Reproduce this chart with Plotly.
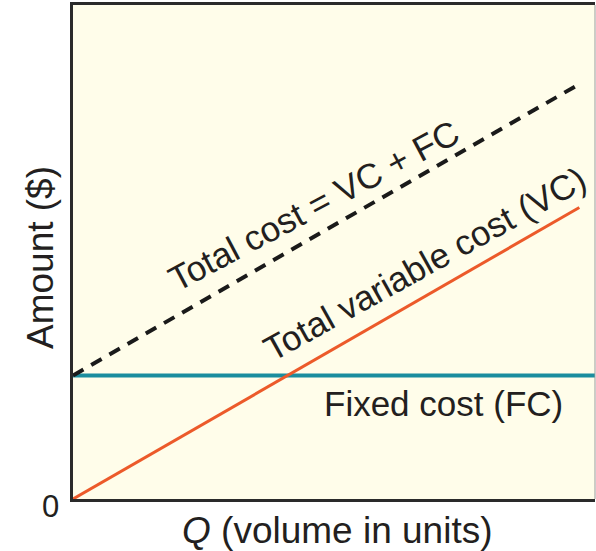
import plotly.graph_objects as go

# Data (arbitrary units)
q_fc = [0, 10]
fc = [2.5, 2.5]
q_vc = [0, 9.7]
vc = [0, 5.9]
q_tc = [0, 9.7]
tc = [2.5, 8.4]

labels = {
    "tc": "Total cost = VC + FC",
    "vc": "Total variable cost (VC)",
    "fc": "Fixed cost (FC)",
}
x_title = "<i>Q</i> (volume in units)"
y_title = "Amount ($)"
origin_label = "0"

FONT = "Liberation Sans, Arial, sans-serif"
TXT = "#231f20"
FS = 35

fig = go.Figure()
fig.add_trace(go.Scatter(x=q_fc, y=fc, mode="lines",
                         line=dict(color="#1b8d9e", width=4), showlegend=False))
fig.add_trace(go.Scatter(x=q_vc, y=vc, mode="lines",
                         line=dict(color="#ec5a2a", width=3), showlegend=False))
fig.add_trace(go.Scatter(x=q_tc, y=tc, mode="lines",
                         line=dict(color="#1a1a1a", width=4, dash="12px,9px"),
                         showlegend=False))

fig.add_annotation(x=4.6, y=5.95, text=labels["tc"], showarrow=False,
                   textangle=-28, font=dict(size=FS, color=TXT, family=FONT))
fig.add_annotation(x=6.74, y=4.76, text=labels["vc"], showarrow=False,
                   textangle=-29, font=dict(size=FS, color=TXT, family=FONT))
fig.add_annotation(x=7.1, y=1.93, text=labels["fc"], showarrow=False,
                   font=dict(size=FS, color=TXT, family=FONT))
fig.add_annotation(xref="paper", x=0, y=0, xanchor="right", yshift=-7, xshift=-12,
                   text=origin_label, showarrow=False,
                   font=dict(size=31, color=TXT, family=FONT))
# axis titles
fig.add_annotation(xref="paper", yref="paper", x=0.506, y=0, yanchor="middle",
                   yshift=-31, text=x_title, showarrow=False,
                   font=dict(size=37, color=TXT, family=FONT))
fig.add_annotation(xref="paper", yref="paper", x=0, y=0.5, xanchor="center",
                   xshift=-33, yshift=-6, textangle=-90, text=y_title, showarrow=False,
                   font=dict(size=37, color=TXT, family=FONT))

fig.add_shape(type="line", xref="paper", yref="paper", x0=1, x1=1, y0=0, y1=1,
              line=dict(color="#9a9a9a", width=1))

fig.update_xaxes(range=[0, 10], showgrid=False, zeroline=False, showticklabels=False,
                 ticks="", showline=True, linecolor="#2a2a2a", linewidth=3, mirror=True)
fig.update_yaxes(range=[0, 10], showgrid=False, zeroline=False, showticklabels=False,
                 ticks="", showline=True, linecolor="#2a2a2a", linewidth=3)

fig.update_layout(width=596, height=551,
                  margin=dict(l=73, r=1, t=5, b=52),
                  plot_bgcolor="#fffdea", paper_bgcolor="white")

fig.write_html("out.html", config={"displayModeBar": False},
               post_script="document.body.style.margin='0';document.body.style.overflow='hidden';")
